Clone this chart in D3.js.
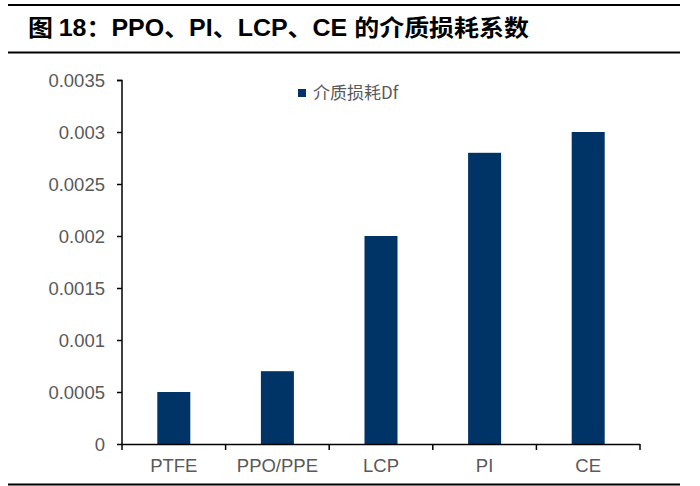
<!DOCTYPE html>
<html><head><meta charset="utf-8">
<script src="https://cdn.jsdelivr.net/npm/d3@7"></script>
<style>body{margin:0;background:#fff}svg{display:block}</style>
</head><body>
<script>
const categories = ["PTFE","PPO/PPE","LCP","PI","CE"];
const values = [0.0005,0.0007,0.002,0.0028,0.003];
const yTicks = [0,0.0005,0.001,0.0015,0.002,0.0025,0.003,0.0035];
const yTickLabels = ["0","0.0005","0.001","0.0015","0.002","0.0025","0.003","0.0035"];
const seriesName = "介质损耗Df";

const W=700,H=486;
const svg=d3.select("body").append("svg").attr("width",W).attr("height",H);
const font="Liberation Sans, Arial, 'Noto Sans CJK SC', sans-serif";
const cjk="'Noto Sans CJK SC', sans-serif";

// frame lines
svg.append("line").attr("x1",8).attr("x2",680).attr("y1",5).attr("y2",5).attr("stroke","#000").attr("stroke-width",2);
svg.append("line").attr("x1",8).attr("x2",680).attr("y1",52.5).attr("y2",52.5).attr("stroke","#000").attr("stroke-width",2);
svg.append("line").attr("x1",8).attr("x2",680).attr("y1",484.5).attr("y2",484.5).attr("stroke","#000").attr("stroke-width",2);

const t=svg.append("text").attr("x",28).attr("y",36).attr("font-weight","bold").attr("font-size",23).attr("fill","#000").attr("font-family",font);
t.append("tspan").attr("font-family",cjk).text("图 ");
t.append("tspan").text("18");
t.append("tspan").attr("font-family",cjk).text("：");
t.append("tspan").text("PPO、PI、LCP、CE ");
t.append("tspan").attr("font-family",cjk).text("的介质损耗系数");
t.attr("textLength",501).attr("lengthAdjust","spacingAndGlyphs");

const xb=d3.scaleBand().domain(categories).range([122,640]);
const y=d3.scaleLinear().domain([0,0.0035]).range([444,80]);

svg.selectAll("rect.bar").data(values).enter().append("rect").attr("class","bar")
 .attr("x",(d,i)=>xb(categories[i])+xb.bandwidth()/2-16.5).attr("width",33)
 .attr("y",d=>y(d)).attr("height",d=>y(0)-y(d)).attr("fill","#003366");

const ya=d3.axisLeft(y).tickValues(yTicks).tickFormat((d,i)=>yTickLabels[i]).tickSize(5).tickPadding(12);
const gy=svg.append("g").attr("transform","translate(122,0)").call(ya);
gy.select(".domain").attr("stroke","#000").attr("stroke-width",1.5).attr("d","M-5,80.5H0V444.5");
gy.selectAll(".tick line").attr("stroke","#000").attr("stroke-width",1.5);
gy.selectAll(".tick text").attr("font-size",18.5).attr("fill","#595959").attr("font-family",font).attr("dy","0.35em");

const xa=d3.axisBottom(xb).tickSize(0).tickPadding(15);
const gx=svg.append("g").attr("transform","translate(0,444)").call(xa);
gx.select(".domain").attr("stroke","#000").attr("stroke-width",1.5).attr("d","M122,0.5H640");
gx.selectAll(".tick text").attr("font-size",18.5).attr("fill","#595959").attr("font-family",font);
const bounds=[0,1,2,3,4,5].map(i=>122+i*xb.step());
svg.selectAll("line.xt").data(bounds).enter().append("line").attr("class","xt")
 .attr("x1",d=>d).attr("x2",d=>d).attr("y1",444).attr("y2",450).attr("stroke","#000").attr("stroke-width",1.5);

// legend
svg.append("rect").attr("x",298).attr("y",89).attr("width",8).attr("height",8).attr("fill","#003366");
svg.append("text").attr("x",313).attr("y",99).attr("font-size",17).attr("fill","#595959").attr("font-family",cjk).text(seriesName);
</script>
</body></html>
